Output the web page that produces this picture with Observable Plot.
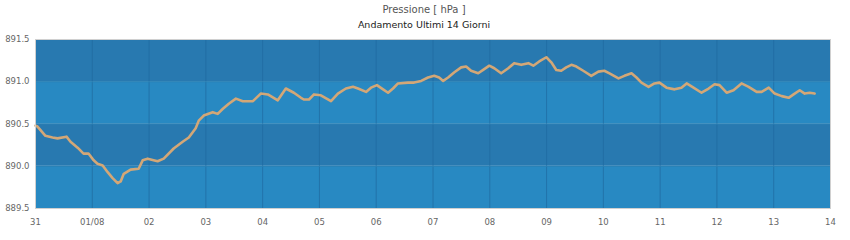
<!DOCTYPE html>
<html>
<head>
<meta charset="utf-8">
<script src="https://cdn.jsdelivr.net/npm/d3@7"></script>
<script src="https://cdn.jsdelivr.net/npm/@observablehq/plot@0.6"></script>
<style>
  body { margin: 0; background: #fff; font-family: "DejaVu Sans", sans-serif; }
  #head { position: relative; width: 850px; height: 34px; }
  #t1, #t2 { position: absolute; left: 0; width: 848px; text-align: center; white-space: nowrap; }
  #t1 { top: 4px; font-size: 10px; color: #555; }
  #t2 { top: 19px; font-size: 9.5px; color: #222; }
  #chart svg { display: block; }
</style>
</head>
<body>
<div id="head"><div id="t1"></div><div id="t2"></div></div>
<div id="chart"></div>
<script>
const title = "Pressione [ hPa ]";
const subtitle = "Andamento Ultimi 14 Giorni";

// hours since 31 July 00:00 and pressure in hPa
const hours = [0, 0.85, 4.2, 7.2, 9.3, 13.1, 14.8, 17.8, 20.3, 22.4, 24.6, 26.2, 28.4, 30.5, 32.6, 34.7, 36.0, 37.3, 40.2, 43.6,
  45.3, 47.4, 51.6, 54.2, 58.4, 62.2, 64.8, 67.7, 69.0, 71.1, 74.9, 77.0, 79.2, 81.7, 84.7, 87.6, 91.9, 95.2, 98.2, 102.4,
  105.8, 109.2, 112.2, 113.4, 115.6, 117.7, 120.6, 124.9, 127.8, 131.2, 134.2, 136.3, 139.7, 141.8, 144.3, 146.9, 149.0, 151.1, 153.2, 157.5,
  160.0, 163.0, 165.9, 168.5, 170.6, 172.3, 174.4, 176.9, 179.9, 182.0, 184.1, 187.1, 189.2, 191.8, 193.9, 196.8, 199.8, 202.3, 205.3, 208.3,
  210.4, 212.9, 215.9, 218.0, 220.1, 222.2, 224.3, 226.5, 228.6, 231.5, 234.9, 237.9, 240.4, 242.6, 246.4, 248.9, 251.9, 254.0, 256.1, 259.1,
  261.6, 263.7, 266.7, 270.1, 273.0, 275.2, 278.1, 281.5, 284.5, 287.0, 289.1, 292.1, 295.0, 298.4, 301.4, 304.8, 306.9, 309.9, 312.4, 315.4,
  318.3, 320.4, 323.0, 325.1, 327.2, 329.3];
const pressure = [890.48, 890.47, 890.36, 890.34, 890.33, 890.35, 890.29, 890.22, 890.15, 890.15, 890.07, 890.03, 890.01, 889.93, 889.86, 889.80, 889.82, 889.91, 889.96, 889.97,
  890.07, 890.09, 890.06, 890.09, 890.21, 890.29, 890.34, 890.45, 890.54, 890.60, 890.64, 890.62, 890.68, 890.74, 890.80, 890.77, 890.77, 890.86, 890.85, 890.78,
  890.92, 890.87, 890.81, 890.79, 890.79, 890.85, 890.84, 890.77, 890.86, 890.92, 890.94, 890.92, 890.88, 890.93, 890.96, 890.91, 890.87, 890.92, 890.98, 890.99,
  890.99, 891.01, 891.05, 891.07, 891.05, 891.01, 891.05, 891.11, 891.17, 891.18, 891.13, 891.10, 891.14, 891.19, 891.16, 891.10, 891.16, 891.22, 891.20, 891.22,
  891.19, 891.24, 891.29, 891.23, 891.14, 891.13, 891.17, 891.20, 891.18, 891.13, 891.07, 891.12, 891.13, 891.10, 891.04, 891.07, 891.10, 891.05, 890.99, 890.94,
  890.98, 890.99, 890.93, 890.91, 890.93, 890.98, 890.93, 890.87, 890.92, 890.97, 890.96, 890.87, 890.90, 890.98, 890.94, 890.88, 890.88, 890.93, 890.86, 890.83,
  890.81, 890.85, 890.90, 890.86, 890.87, 890.86];

const yTicks = [889.5, 890.0, 890.5, 891.0, 891.5];
const xTickDays = [31, 1, 2, 3, 4, 5, 6, 7, 8, 9, 10, 11, 12, 13, 14];
const xTickLabels = ["31", "01/08", "02", "03", "04", "05", "06", "07", "08", "09", "10", "11", "12", "13", "14"];
const bandFills = ["#2889c2", "#2879b0", "#2889c2", "#2879b0"];

document.getElementById("t1").textContent = title;
document.getElementById("t2").textContent = subtitle;

const start = Date.UTC(2023, 6, 31);
const data = hours.map((h, i) => ({ date: new Date(start + h * 3600e3), value: pressure[i] }));
const xTicks = xTickDays.map((d, i) => i === 0 ? new Date(Date.UTC(2023, 6, d)) : new Date(Date.UTC(2023, 7, d)));
const tickLabelOf = new Map(xTicks.map((d, i) => [+d, xTickLabels[i]]));
const bands = bandFills.map((f, i) => ({ y1: yTicks[i], y2: yTicks[i + 1], fill: f }));

const chart = Plot.plot({
  width: 850,
  height: 206,
  marginTop: 5,
  marginBottom: 32,
  marginLeft: 35,
  marginRight: 20,
  style: { fontFamily: "DejaVu Sans, sans-serif", fontSize: "8.5px", color: "#666", background: "#fff" },
  x: { type: "utc", domain: [xTicks[0], xTicks[xTicks.length - 1]], label: null },
  y: { domain: [yTicks[0], yTicks[yTicks.length - 1]], label: null },
  marks: [
    Plot.rectY(bands, { x1: xTicks[0], x2: xTicks[xTicks.length - 1], y1: "y1", y2: "y2", fill: "fill", inset: 0 }),
    Plot.ruleX(xTicks.slice(1, -1), { stroke: "#1f6aa0", strokeWidth: 1, strokeOpacity: 0.7 }),
    Plot.ruleY(yTicks.slice(1, -1), { stroke: "#2a80b4", strokeWidth: 1 }),
    Plot.line(data, { x: "date", y: "value", stroke: "#d3a777", strokeWidth: 2.6, curve: "linear" }),
    Plot.frame({ stroke: "#d0d0d0", strokeWidth: 1 }),
    Plot.axisX(xTicks, { tickSize: 0, tickPadding: 10, tickFormat: d => tickLabelOf.get(+d), fill: "#666", fontSize: 8.5 }),
    Plot.axisY(yTicks, { tickSize: 0, tickPadding: 6, tickFormat: d3.format(".1f"), fill: "#666", fontSize: 8.5 })
  ]
});
document.getElementById("chart").appendChild(chart);
</script>
</body>
</html>
